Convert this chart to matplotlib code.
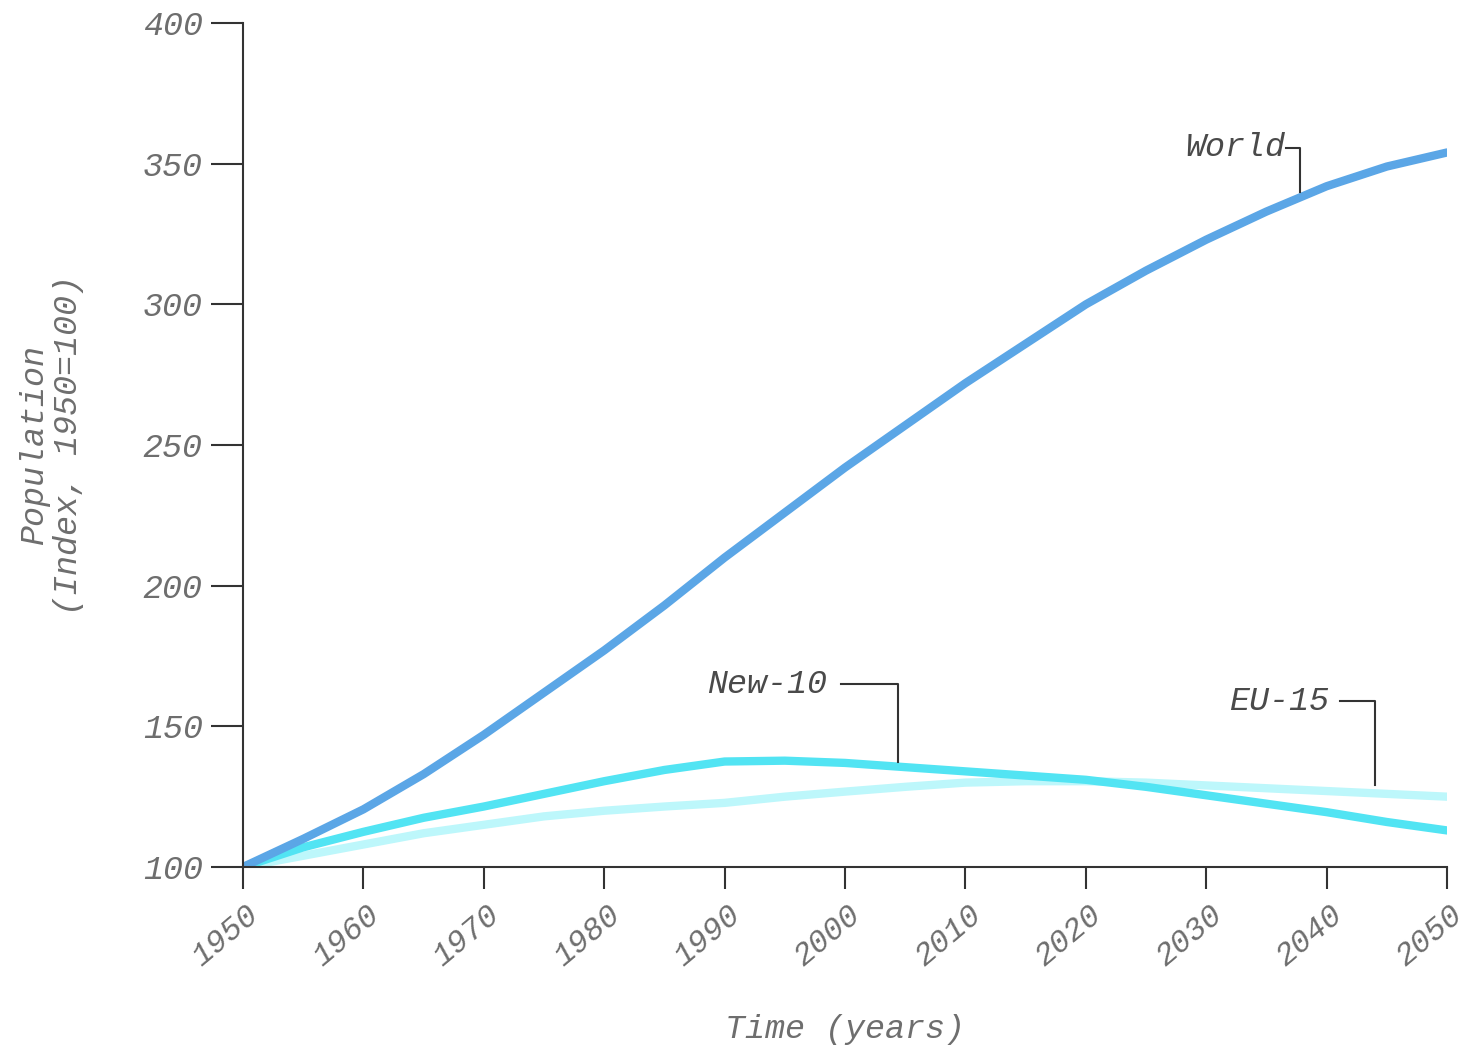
import matplotlib
matplotlib.use("Agg")
import matplotlib.pyplot as plt
import matplotlib.transforms as mtransforms

years = [1950, 1955, 1960, 1965, 1970, 1975, 1980, 1985, 1990, 1995, 2000,
         2005, 2010, 2015, 2020, 2025, 2030, 2035, 2040, 2045, 2050]
world = [100, 110, 120.5, 133, 147, 162, 177, 193, 210, 226, 242,
         257, 272, 286, 300, 312, 323, 333, 342, 349, 354]
new10 = [100, 107, 112.5, 117.5, 121.5, 126, 130.5, 134.5, 137.5, 137.8, 137,
         135.5, 134, 132.5, 131, 128.5, 125.5, 122.5, 119.5, 116, 113]
eu15 = [100, 104, 108, 112, 115, 118, 120, 121.5, 122.8, 125, 126.8,
        128.5, 130, 130.5, 130.5, 130, 129, 128, 127, 126, 125]

xticks = list(range(1950, 2051, 10))
yticks = [100, 150, 200, 250, 300, 350, 400]

plt.rcParams['font.family'] = ['Liberation Mono', 'DejaVu Sans Mono']
plt.rcParams['font.style'] = 'italic'

fig = plt.figure(figsize=(14.7, 10.48), dpi=100)
ax = fig.add_axes([0.1653, 0.1727, 0.8191, 0.8053])

style = dict(lw=6, solid_capstyle='round', solid_joinstyle='round')
ax.plot(years, eu15, color='#bdf7fb', **style)
ax.plot(years, new10, color='#52e4f3', **style)
ax.plot(years, world, color='#5ba6e6', **style)

ax.set_xlim(1950, 2050)
ax.set_ylim(100, 400)
ax.set_xticks(xticks)
ax.set_yticks(yticks)

for s in ['top', 'right']:
    ax.spines[s].set_visible(False)
for s in ['left', 'bottom']:
    ax.spines[s].set_color('#333333')
    ax.spines[s].set_linewidth(1.5)

ax.tick_params(axis='y', length=23, width=1.5, color='#333333', labelsize=24,
               labelcolor='#6e6e6e', pad=6)
ax.tick_params(axis='x', length=16, width=1.5, color='#333333', labelsize=23,
               labelcolor='#6e6e6e', pad=8)
shift = mtransforms.ScaledTranslation(-17 / 100, 0, fig.dpi_scale_trans)
for lab in ax.get_xticklabels():
    lab.set_rotation(40)
    lab.set_ha('center')
    lab.set_va('top')
    lab.set_transform(lab.get_transform() + shift)

ax.set_xlabel('Time (years)', fontsize=24, color='#6e6e6e', labelpad=30)
ax.set_ylabel('Population\n(Index, 1950=100)', fontsize=24, color='#6e6e6e',
              labelpad=42, linespacing=1.15)

# leader-line labels
lead = dict(color='#333333', lw=1.5)
txt = dict(fontsize=24, color='#4a4a4a', ha='right', va='center')
ax.text(2036.6, 355.6, 'World', **txt)
ax.plot([2036.6, 2037.8, 2037.8], [355.6, 355.6, 340], **lead)

ax.text(1998.5, 165, 'New-10', **txt)
ax.plot([1999.7, 2004.4, 2004.4], [165, 165, 137.3], **lead)

ax.text(2040.2, 159, 'EU-15', **txt)
ax.plot([2041.1, 2044.0, 2044.0], [159, 159, 129], **lead)

fig.savefig('out.png', dpi=100)
